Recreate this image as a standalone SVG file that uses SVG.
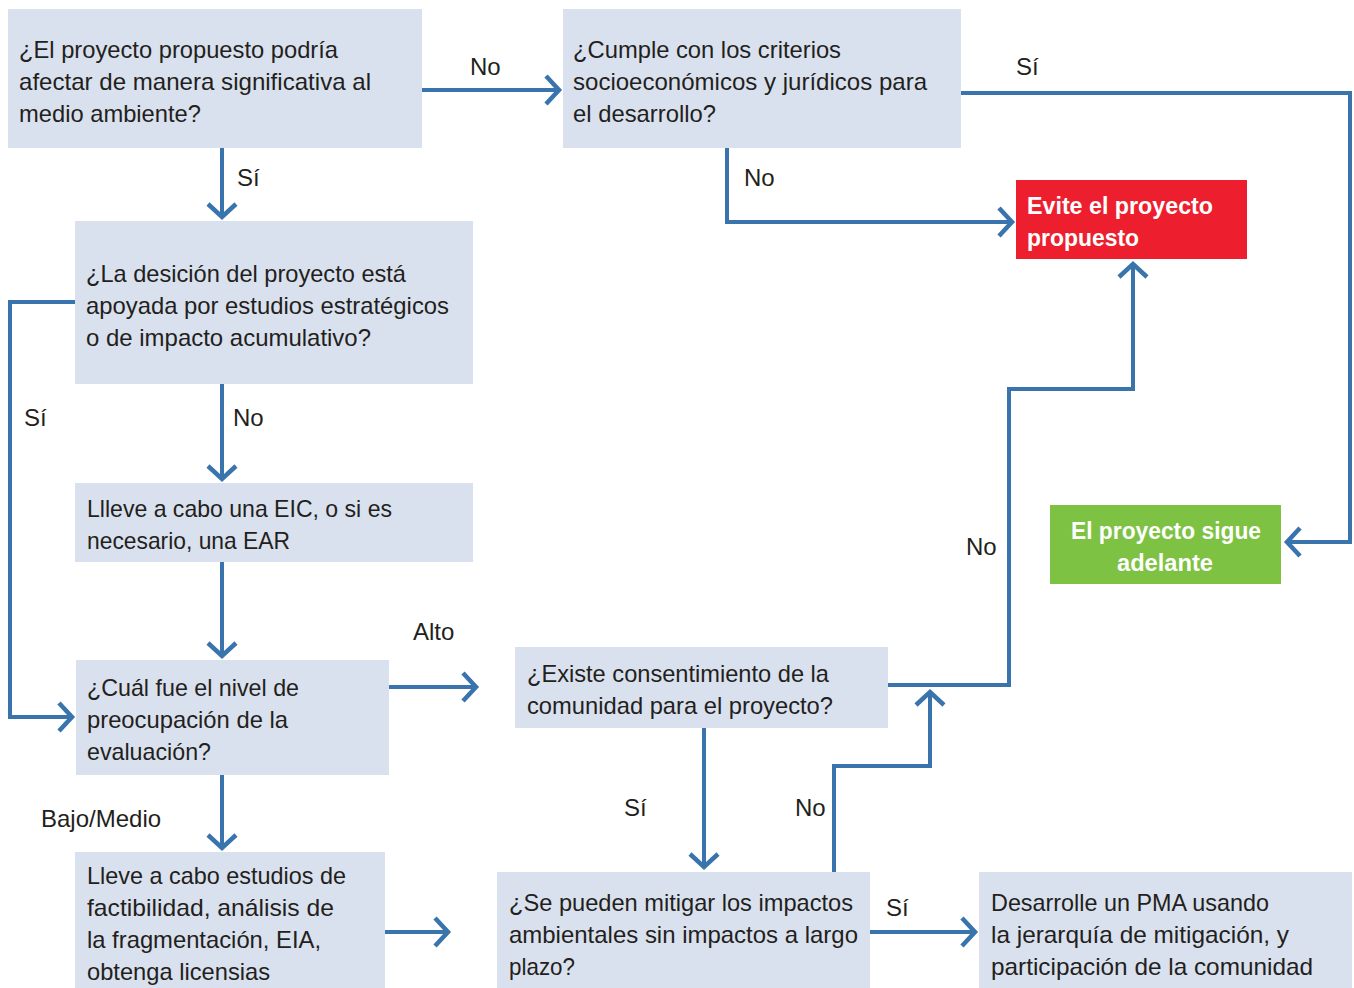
<svg xmlns="http://www.w3.org/2000/svg" width="1354" height="988" viewBox="0 0 1354 988">
<defs>
<style>
.box{fill:#dae1ee}
.t{font-family:"Liberation Sans","Noto Sans",sans-serif;font-size:24px;fill:#231f20}
.b{font-family:"Liberation Sans","Noto Sans",sans-serif;font-size:24px;font-weight:bold;fill:#ffffff}
.lbl{font-family:"Liberation Sans","Noto Sans",sans-serif;font-size:24px;fill:#231f20}
.c{fill:none;stroke:#3a74ad;stroke-width:4;marker-end:url(#arr)}
</style>
<marker id="arr" markerUnits="userSpaceOnUse" markerWidth="40" markerHeight="40" refX="0" refY="0" viewBox="-20 -20 40 40" orient="auto" overflow="visible">
<path d="M-13,-14 L0,0 L-13,14" fill="none" stroke="#3a74ad" stroke-width="4.5"/>
</marker>
</defs>
<rect width="1354" height="988" fill="#ffffff"/>

<g id="connectors">
<path class="c" d="M422,90 H559"/>
<path class="c" d="M222,148 V217"/>
<path class="c" d="M961,93 H1350 V542 H1287"/>
<path class="c" d="M727,148 V222 H1012"/>
<path class="c" d="M75,302 H10 V717 H72"/>
<path class="c" d="M222,384 V479"/>
<path class="c" d="M222,562 V656"/>
<path class="c" d="M389,687 H476"/>
<path class="c" d="M222,775 V848"/>
<path class="c" d="M385,932 H448"/>
<path class="c" d="M888,685 H1009 V389 H1133 V264"/>
<path class="c" d="M704,728 V867"/>
<path class="c" d="M834,872 V766 H930 V692"/>
<path class="c" d="M870,932 H975"/>
<text class="lbl" x="470" y="75">No</text>
<text class="lbl" x="237" y="186">Sí</text>
<text class="lbl" x="1016" y="75">Sí</text>
<text class="lbl" x="744" y="186">No</text>
<text class="lbl" x="24" y="426">Sí</text>
<text class="lbl" x="233" y="426">No</text>
<text class="lbl" x="413" y="640">Alto</text>
<text class="lbl" x="41" y="827">Bajo/Medio</text>
<text class="lbl" x="966" y="555">No</text>
<text class="lbl" x="624" y="816">Sí</text>
<text class="lbl" x="795" y="816">No</text>
<text class="lbl" x="886" y="916">Sí</text>
</g>

<g id="n1">
<rect class="box" x="8" y="9" width="414" height="139"/>
<text class="t" x="19" y="58" textLength="319" lengthAdjust="spacingAndGlyphs">¿El proyecto propuesto podría</text>
<text class="t" x="19" y="90" textLength="352" lengthAdjust="spacingAndGlyphs">afectar de manera significativa al</text>
<text class="t" x="19" y="122" textLength="182" lengthAdjust="spacingAndGlyphs">medio ambiente?</text>
</g>

<g id="n2">
<rect class="box" x="563" y="9" width="398" height="139"/>
<text class="t" x="573" y="58" textLength="268" lengthAdjust="spacingAndGlyphs">¿Cumple con los criterios</text>
<text class="t" x="573" y="90" textLength="354" lengthAdjust="spacingAndGlyphs">socioeconómicos y jurídicos para</text>
<text class="t" x="573" y="122" textLength="143" lengthAdjust="spacingAndGlyphs">el desarrollo?</text>
</g>

<g id="n3">
<rect class="box" x="75" y="221" width="398" height="163"/>
<text class="t" x="86" y="282" textLength="320" lengthAdjust="spacingAndGlyphs">¿La desición del proyecto está</text>
<text class="t" x="86" y="314" textLength="363" lengthAdjust="spacingAndGlyphs">apoyada por estudios estratégicos</text>
<text class="t" x="86" y="346" textLength="285" lengthAdjust="spacingAndGlyphs">o de impacto acumulativo?</text>
</g>

<g id="n4">
<rect class="box" x="75" y="483" width="398" height="79"/>
<text class="t" x="87" y="517" textLength="305" lengthAdjust="spacingAndGlyphs">Llleve a cabo una EIC, o si es</text>
<text class="t" x="87" y="549" textLength="203" lengthAdjust="spacingAndGlyphs">necesario, una EAR</text>
</g>

<g id="n5">
<rect class="box" x="76" y="660" width="313" height="115"/>
<text class="t" x="87" y="696" textLength="212" lengthAdjust="spacingAndGlyphs">¿Cuál fue el nivel de</text>
<text class="t" x="87" y="728" textLength="201" lengthAdjust="spacingAndGlyphs">preocupación de la</text>
<text class="t" x="87" y="760" textLength="124" lengthAdjust="spacingAndGlyphs">evaluación?</text>
</g>

<g id="n6">
<rect class="box" x="75" y="852" width="310" height="136"/>
<text class="t" x="87" y="884" textLength="259" lengthAdjust="spacingAndGlyphs">Lleve a cabo estudios de</text>
<text class="t" x="87" y="916" textLength="247" lengthAdjust="spacingAndGlyphs">factibilidad, análisis de</text>
<text class="t" x="87" y="948" textLength="234" lengthAdjust="spacingAndGlyphs">la fragmentación, EIA,</text>
<text class="t" x="87" y="980" textLength="183" lengthAdjust="spacingAndGlyphs">obtenga licensias</text>
</g>

<g id="n7">
<rect class="box" x="515" y="647" width="373" height="81"/>
<text class="t" x="527" y="682" textLength="302" lengthAdjust="spacingAndGlyphs">¿Existe consentimiento de la</text>
<text class="t" x="527" y="714" textLength="306" lengthAdjust="spacingAndGlyphs">comunidad para el proyecto?</text>
</g>

<g id="n8">
<rect class="box" x="497" y="872" width="373" height="116"/>
<text class="t" x="509" y="911" textLength="344" lengthAdjust="spacingAndGlyphs">¿Se pueden mitigar los impactos</text>
<text class="t" x="509" y="943" textLength="349" lengthAdjust="spacingAndGlyphs">ambientales sin impactos a largo</text>
<text class="t" x="509" y="975" textLength="66" lengthAdjust="spacingAndGlyphs">plazo?</text>
</g>

<g id="n9">
<rect class="box" x="979" y="872" width="373" height="116"/>
<text class="t" x="991" y="911" textLength="278" lengthAdjust="spacingAndGlyphs">Desarrolle un PMA usando</text>
<text class="t" x="991" y="943" textLength="298" lengthAdjust="spacingAndGlyphs">la jerarquía de mitigación, y</text>
<text class="t" x="991" y="975" textLength="322" lengthAdjust="spacingAndGlyphs">participación de la comunidad</text>
</g>

<g id="n10">
<rect x="1016" y="180" width="231" height="79" fill="#ed1f2e"/>
<text class="b" x="1027" y="214" textLength="186" lengthAdjust="spacingAndGlyphs">Evite el proyecto</text>
<text class="b" x="1027" y="246" textLength="112" lengthAdjust="spacingAndGlyphs">propuesto</text>
</g>

<g id="n11">
<rect x="1050" y="505" width="231" height="79" fill="#7dc242"/>
<text class="b" x="1071" y="539" textLength="190" lengthAdjust="spacingAndGlyphs">El proyecto sigue</text>
<text class="b" x="1117" y="571" textLength="96" lengthAdjust="spacingAndGlyphs">adelante</text>
</g>
</svg>
